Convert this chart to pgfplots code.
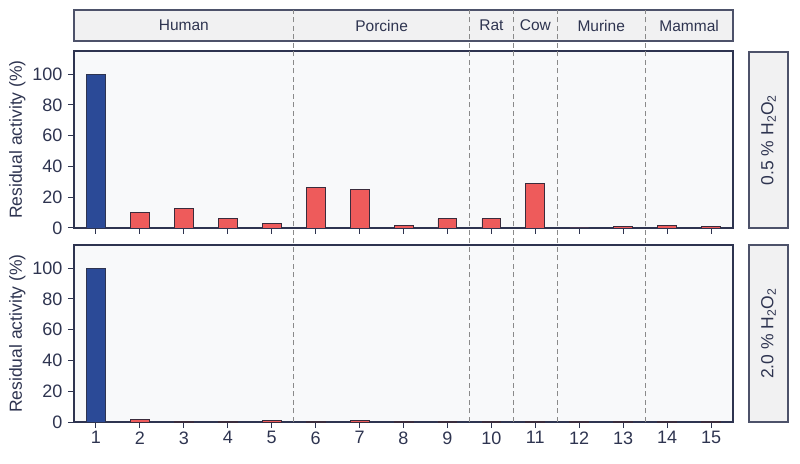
\documentclass[border=0pt]{standalone}
\usepackage{fontspec}
\setmainfont{Liberation Sans}
\usepackage{pgfplots}
\pgfplotsset{compat=1.18}
\definecolor{ink}{HTML}{2E3450}
\definecolor{panelbg}{HTML}{F8F9FA}
\definecolor{stripbg}{HTML}{F1F1F2}
\definecolor{barblue}{HTML}{2B4A97}
\definecolor{barred}{HTML}{EE5B5B}
\definecolor{baredge}{HTML}{3A2C3C}
\definecolor{dashgray}{HTML}{8A8A8A}
\begin{document}
\begin{tikzpicture}[x=1pt,y=1pt]
\useasboundingbox (0,0) rectangle (800,463);
\pgfplotsset{panel/.style={
  scale only axis, width=659pt, height=177pt,
  xmin=0.5, xmax=15.5, ymin=0, ymax=115,
  ytick={0,20,...,100}, xtick={1,...,15},
  tick align=outside, xtick pos=bottom, ytick pos=left,
  major tick length=6pt,
  axis line style={ink, line width=1.3pt},
  tick style={ink, line width=1pt},
  axis background/.style={fill=panelbg},
  ybar, bar width=0.43,
  tick label style={font=\fontsize{18}{20}\selectfont, text=ink},
  yticklabel style={xshift=-2pt},
  /pgf/number format/assume math mode=true,
  ylabel={Residual activity (\%)},
  ylabel style={font=\fontsize{17.5}{19}\selectfont, text=ink},
  anchor=south west,
}}
% strip
\draw[fill=stripbg, draw=ink!85, line width=1.3pt] (74,422) rectangle (733,453);
\begin{axis}[panel, at={(74pt,235pt)}, xticklabels={}]
\addplot[fill=barblue, draw=ink, line width=0.8pt, bar shift=0pt] coordinates {(1,100)};
\addplot[fill=barred, draw=baredge, line width=0.8pt, bar shift=0pt] coordinates {
(2,10) (3,12.5) (4,6) (5,3) (6,26.5) (7,25) (8,1.5) (9,6) (10,6) (11,29) (12,0) (13,1) (14,1.5) (15,1)};
\end{axis}
\begin{axis}[panel, at={(74pt,41pt)}]
\addplot[fill=barblue, draw=ink, line width=0.8pt, bar shift=0pt] coordinates {(1,100)};
\addplot[fill=barred, draw=baredge, line width=0.8pt, bar shift=0pt] coordinates {
(2,1.5) (3,0.3) (4,0.3) (5,0.8) (6,0.4) (7,0.8) (8,0.2) (9,0.2) (10,0.1) (11,0.1) (12,0.1) (13,0.1) (14,0.1) (15,0.1)};
\end{axis}
% separators
\foreach \xx in {293.7,469.5,513.4,557.3,645.1}
  \draw[dashgray, line width=1pt, dash pattern=on 5pt off 3.5pt] (\xx,41) -- (\xx,453);
% strip labels
\begin{scope}[every node/.style={font=\fontsize{15.5}{18}\selectfont, text=ink}]
\node at (183.8,437.5) {Human};
\node at (381.6,437.5) {Porcine};
\node at (491.4,437.5) {Rat};
\node at (535.4,437.5) {Cow};
\node at (601.2,437.5) {Murine};
\node at (689.1,437.5) {Mammal};
\end{scope}
% right strips
\draw[fill=stripbg, draw=ink!85, line width=1.3pt] (749,235) rectangle (788,411);
\draw[fill=stripbg, draw=ink!85, line width=1.3pt] (749,41) rectangle (788,218);
\node[rotate=90, font=\fontsize{17.5}{19}\selectfont, text=ink] at (768.5,323) {0.5 \% H\textsubscript{2}O\textsubscript{2}};
\node[rotate=90, font=\fontsize{17.5}{19}\selectfont, text=ink] at (768.5,129.5) {2.0 \% H\textsubscript{2}O\textsubscript{2}};
\end{tikzpicture}
\end{document}
